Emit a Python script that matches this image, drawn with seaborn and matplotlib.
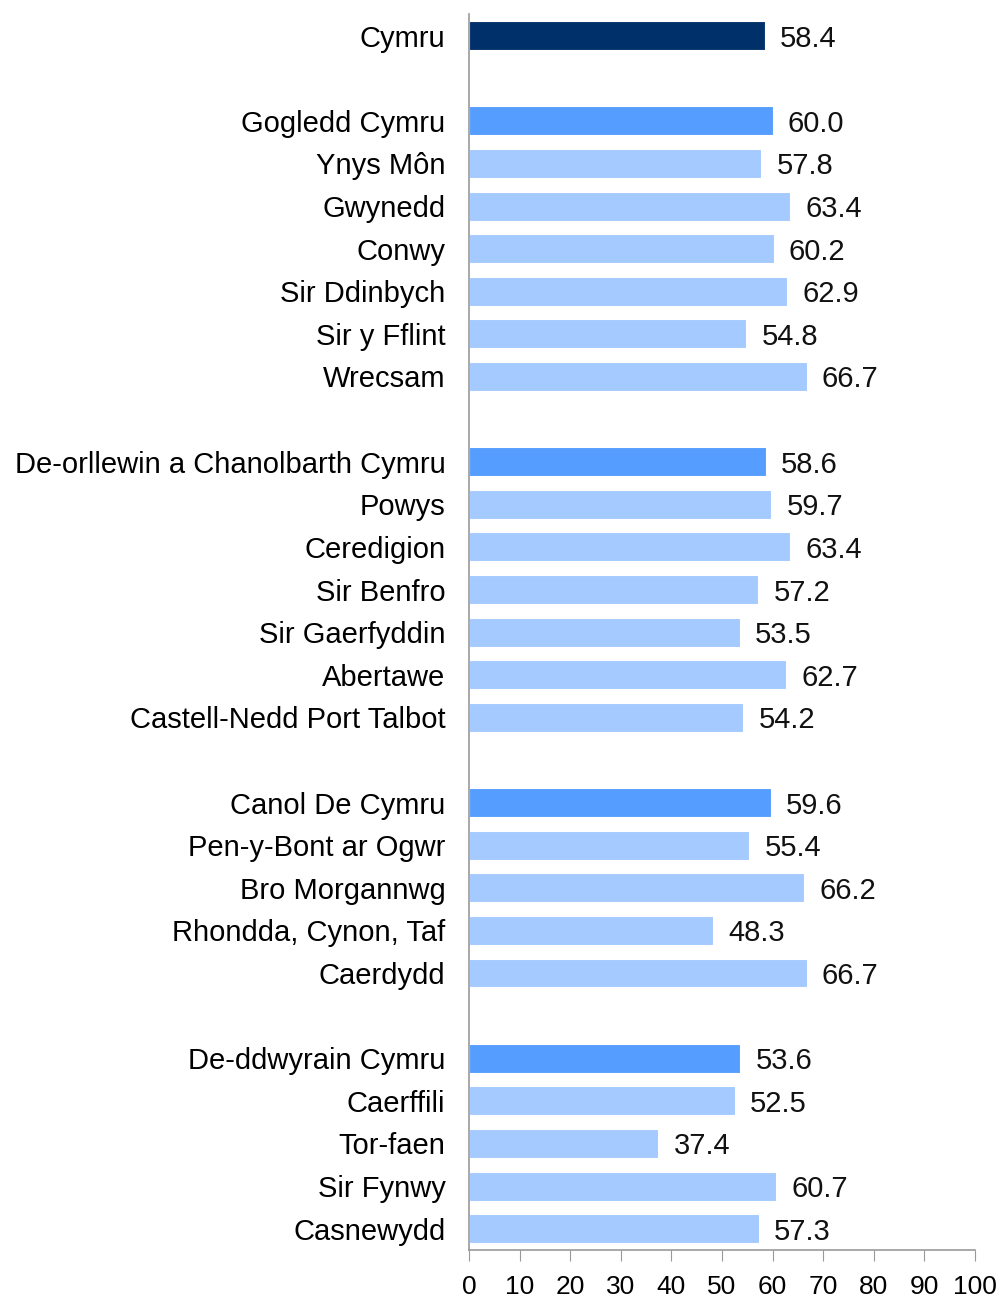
import matplotlib
matplotlib.use('Agg')
import matplotlib.pyplot as plt
import numpy as np
import pandas as pd
import seaborn as sns

# Data
areas = [
    'Cymru',
    'Gogledd Cymru', 'Ynys Môn', 'Gwynedd', 'Conwy', 'Sir Ddinbych',
    'Sir y Fflint', 'Wrecsam',
    'De-orllewin a Chanolbarth Cymru', 'Powys', 'Ceredigion', 'Sir Benfro',
    'Sir Gaerfyddin', 'Abertawe', 'Castell-Nedd Port Talbot',
    'Canol De Cymru', 'Pen-y-Bont ar Ogwr', 'Bro Morgannwg',
    'Rhondda, Cynon, Taf', 'Caerdydd',
    'De-ddwyrain Cymru', 'Caerffili', 'Tor-faen', 'Sir Fynwy', 'Casnewydd',
]
values = [
    58.4,
    60.0, 57.8, 63.4, 60.2, 62.9, 54.8, 66.7,
    58.6, 59.7, 63.4, 57.2, 53.5, 62.7, 54.2,
    59.6, 55.4, 66.2, 48.3, 66.7,
    53.6, 52.5, 37.4, 60.7, 57.3,
]
levels = (['Cymru'] + ['region'] + ['local'] * 6 + ['region'] + ['local'] * 6
          + ['region'] + ['local'] * 4 + ['region'] + ['local'] * 4)
# blank rows separate the groups
gaps_after = ['Cymru', 'Wrecsam', 'Castell-Nedd Port Talbot', 'Caerdydd']

palette = {'Cymru': '#00306A', 'region': '#559DFF', 'local': '#A4CAFF'}

df = pd.DataFrame({'area': areas, 'value': values, 'level': levels})

order = []
for a in areas:
    order.append(a)
    if a in gaps_after:
        order.append(' ' * (gaps_after.index(a) + 1))

plt.rcParams['font.family'] = ['Liberation Sans', 'DejaVu Sans']

fig, ax = plt.subplots(figsize=(10, 13), dpi=100)
fig.subplots_adjust(left=0.469, right=0.975, top=0.989, bottom=0.0385)

sns.barplot(
    data=df, y='area', x='value', hue='level', order=order,
    palette=palette, dodge=False, width=0.68, legend=False, saturation=1,
    edgecolor='white', linewidth=0.8, ax=ax,
)

for cont in ax.containers:
    labels = ax.bar_label(cont, fmt='%.1f', padding=11, fontsize=21,
                          color='#111111')
    for t in labels:
        t.set_verticalalignment('center_baseline')

ax.set_xlim(0, 100)
ax.set_xticks(np.arange(0, 101, 10))
ax.set_xlabel('')
ax.set_ylabel('')
ax.tick_params(axis='x', labelsize=19, length=8, color='#999999', pad=10,
               direction='out')
ax.tick_params(axis='y', labelsize=21, length=0, pad=17)
for s in ['top', 'right']:
    ax.spines[s].set_visible(False)
for s in ['left', 'bottom']:
    ax.spines[s].set_color('#999999')
    ax.spines[s].set_linewidth(1.2)

fig.savefig('out.png', dpi=100)
